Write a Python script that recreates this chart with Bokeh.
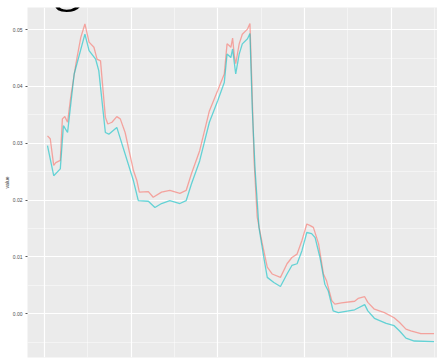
from bokeh.plotting import figure
from bokeh.models import FixedTicker, PrintfTickFormatter, Range1d, Label
from bokeh.embed import file_html
from bokeh.resources import INLINE

# ---- data ----
red_x = [0.9, 1.7, 2.7, 3.3, 4.6, 5.2, 5.9, 6.7, 7.6, 9.1, 10.5, 11.7, 12.9, 14.3, 15.2, 16.2,
         17.6, 18.3, 19.5, 20.9, 21.9, 23.3, 25.7, 26.7, 27.4, 30.0, 31.4, 33.8, 36.2, 39.1,
         40.9, 42.4, 44.8, 47.6, 50.0, 51.9, 52.7, 53.3, 53.8, 54.3, 54.8, 55.2, 56.2, 57.1,
         58.6, 59.3, 59.8, 60.5, 61.4, 62.9, 64.3, 65.7, 68.1, 70.0, 71.4, 72.9, 74.3, 75.7,
         76.7, 77.6, 79.1, 80.5, 81.4, 82.9, 83.8, 85.7, 89.5, 90.5, 92.4, 93.3, 95.2, 98.1,
         100.9, 102.4, 104.3, 105.7, 108.6, 112.4]
red_y = [0.0313, 0.0308, 0.0261, 0.0266, 0.0270, 0.0343, 0.0347, 0.0337, 0.0381, 0.0440,
         0.0486, 0.0510, 0.0478, 0.0469, 0.0448, 0.0445, 0.0346, 0.0334, 0.0337, 0.0347,
         0.0343, 0.0319, 0.0252, 0.0234, 0.0214, 0.0215, 0.0205, 0.0214, 0.0217, 0.0212,
         0.0217, 0.0246, 0.0287, 0.0357, 0.0393, 0.0422, 0.0475, 0.0472, 0.0469, 0.0485,
         0.0454, 0.0440, 0.0475, 0.0492, 0.0501, 0.0511, 0.0416, 0.0269, 0.0170, 0.0122,
         0.0082, 0.0070, 0.0064, 0.0088, 0.0099, 0.0105, 0.0129, 0.0158, 0.0155, 0.0152,
         0.0123, 0.0070, 0.0058, 0.0023, 0.0017, 0.0019, 0.0022, 0.0027, 0.0030, 0.0020,
         0.0008, 0.0002, -0.0007, -0.0015, -0.0027, -0.0030, -0.0035, -0.0035]

teal_x = [0.9, 2.7, 4.6, 5.5, 6.7, 8.6, 11.7, 12.9, 14.8, 15.7, 17.6, 18.6, 20.9, 25.7, 27.1,
          30.0, 31.9, 33.8, 36.2, 39.1, 40.9, 42.4, 44.8, 47.6, 50.0, 51.9, 52.7, 53.8, 54.3,
          55.2, 56.2, 57.1, 58.6, 59.3, 60.0, 60.8, 61.9, 63.3, 64.3, 66.2, 68.1, 70.0, 71.4,
          72.9, 74.3, 75.7, 77.1, 78.1, 79.5, 80.9, 81.9, 83.3, 84.8, 89.5, 92.4, 93.3, 95.2,
          98.6, 100.9, 102.4, 104.3, 106.7, 112.4]
teal_y = [0.0296, 0.0243, 0.0255, 0.0331, 0.0319, 0.0422, 0.0492, 0.0463, 0.0448, 0.0428,
          0.0319, 0.0316, 0.0328, 0.0234, 0.0199, 0.0198, 0.0187, 0.0194, 0.0199, 0.0194,
          0.0199, 0.0228, 0.0269, 0.0337, 0.0375, 0.0407, 0.0457, 0.0451, 0.0466, 0.0422,
          0.0457, 0.0475, 0.0484, 0.0493, 0.0357, 0.0252, 0.0152, 0.0099, 0.0064, 0.0055,
          0.0048, 0.0070, 0.0085, 0.0088, 0.0111, 0.0143, 0.0141, 0.0134, 0.0099, 0.0052,
          0.0040, 0.0005, 0.0002, 0.0007, 0.0016, 0.0005, -0.0008, -0.0017, -0.0021, -0.0030,
          -0.0043, -0.0048, -0.0049]

y_ticks = [0.00, 0.01, 0.02, 0.03, 0.04, 0.05]
y_minor = [-0.005, 0.005, 0.015, 0.025, 0.035, 0.045]
x_ticks = [0, 25, 50, 75, 100]
x_minor = [-12.5, 12.5, 37.5, 62.5, 87.5, 112.5]

p = figure(width=437, height=358, output_backend="svg", toolbar_location=None,
           x_range=Range1d(-4.86, 113.4), y_range=Range1d(-0.0077, 0.0539),
           min_border_left=23, min_border_right=0, min_border_top=7, min_border_bottom=1)
p.background_fill_color = "#EBEBEB"
p.border_fill_color = "white"
p.outline_line_color = None

p.line(red_x, red_y, line_color="#F8766D", line_width=1.3, line_alpha=0.62)
p.line(teal_x, teal_y, line_color="#00BFC4", line_width=1.3, line_alpha=0.58)

p.yaxis.ticker = FixedTicker(ticks=y_ticks, minor_ticks=y_minor)
p.xaxis.ticker = FixedTicker(ticks=x_ticks, minor_ticks=x_minor)
p.yaxis.formatter = PrintfTickFormatter(format="%.2f")
for g in (p.xgrid, p.ygrid):
    g.grid_line_color = "white"
    g.grid_line_width = 1.2
    g.minor_grid_line_color = "white"
    g.minor_grid_line_width = 0.6
    g.minor_grid_line_alpha = 0.8

p.xaxis.visible = False
ya = p.yaxis[0]
ya.axis_line_color = None
ya.major_tick_line_color = "#555555"
ya.major_tick_out = 2
ya.major_tick_in = 0
ya.minor_tick_line_color = None
ya.major_label_text_font = "Liberation Sans"
ya.major_label_text_font_size = "5px"
ya.major_label_text_color = "#4D4D4D"
ya.major_label_standoff = 1
ya.axis_label = "value"
ya.axis_label_text_font = "Liberation Sans"
ya.axis_label_text_font_size = "5px"
ya.axis_label_text_font_style = "normal"
ya.axis_label_text_color = "#333333"
ya.axis_label_standoff = 0

p.add_layout(Label(x=25, y=379, x_units="screen", y_units="screen", text="g",
                   text_font="Liberation Serif", text_font_size="60px",
                   text_baseline="alphabetic", text_color="black"))

html = file_html(p, INLINE)
html = html.replace("</head>", "<style>html,body{margin:0;padding:0;overflow:hidden}</style></head>", 1)
open("out.html", "w").write(html)
